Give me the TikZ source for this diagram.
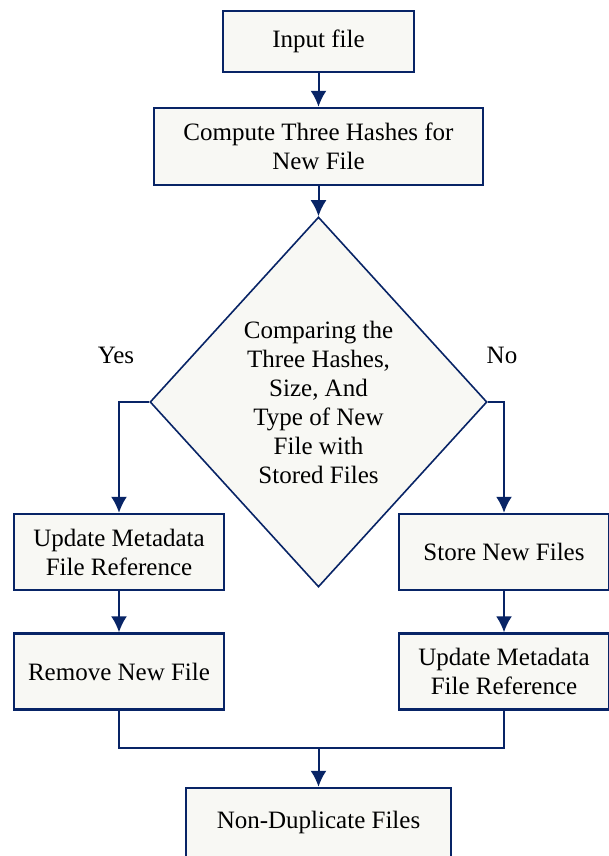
\documentclass[tikz,border=0pt]{standalone}
\usepackage{fontspec}
\setmainfont{Liberation Serif}
\usetikzlibrary{shapes.geometric,arrows.meta}
\definecolor{navy}{RGB}{8,36,102}
\definecolor{paper}{RGB}{248,248,244}
\tikzset{
  stepbox/.style={draw=navy,line width=1.2pt,fill=paper,align=center,inner sep=0pt},
  decide/.style={diamond,draw=navy,line width=0.8pt,fill=paper,align=center,inner sep=0pt},
  flow/.style={draw=navy,line width=1pt,-{Latex[length=8pt,width=8pt]}},
  link/.style={draw=navy,line width=1pt}
}
\begin{document}
\begin{tikzpicture}[x=0.5pt,y=-0.5pt,font=\fontsize{12.5}{14.5}\selectfont]
      \useasboundingbox (0,0) rectangle (609,856);
      \clip (0,0) rectangle (609,856);
      % main column
      \node[stepbox,minimum width=95.5pt,minimum height=30.5pt] (inp) at (318.5,41.5) {Input file};
      \node[stepbox,minimum width=164.5pt,minimum height=38.5pt] (hash) at (318.5,146.5) {Compute Three Hashes for\\New File};
      \node[decide,minimum width=168.5pt,minimum height=185pt] (cmp) at (318.5,402) {Comparing the\\Three Hashes,\\Size, And\\Type of New\\File with\\Stored Files};
      \node (yes) at (116,355) {Yes};
      \node (no) at (502,355) {No};
      % yes branch
      \node[stepbox,minimum width=105pt,minimum height=38pt] (lu) at (119,552) {Update Metadata\\File Reference};
      \node[stepbox,minimum width=105pt,minimum height=38pt] (lr) at (119,671.5) {Remove New File};
      % no branch
      \node[stepbox,minimum width=105pt,minimum height=38pt] (rs) at (504,552) {Store New Files};
      \node[stepbox,minimum width=105pt,minimum height=38pt] (ru) at (504,671.5) {Update Metadata\\File Reference};
      % result
      \node[stepbox,minimum width=132.5pt,minimum height=34.5pt] (nd) at (318.5,822.5) {Non-Duplicate Files};
      \coordinate (join) at (318.5,748);
      \draw[flow] (inp) -- (hash);
      \draw[flow] (hash) -- (cmp.north);
      \draw[flow] (cmp.west) -| (lu.north);
      \draw[flow] (cmp.east) -| (rs.north);
      \draw[flow] (lu) -- (lr);
      \draw[flow] (rs) -- (ru);
      \draw[link] (lr.south) |- (join) -| (ru.south);
      \draw[flow] (join) -- (nd);
    \end{tikzpicture}
\end{document}
